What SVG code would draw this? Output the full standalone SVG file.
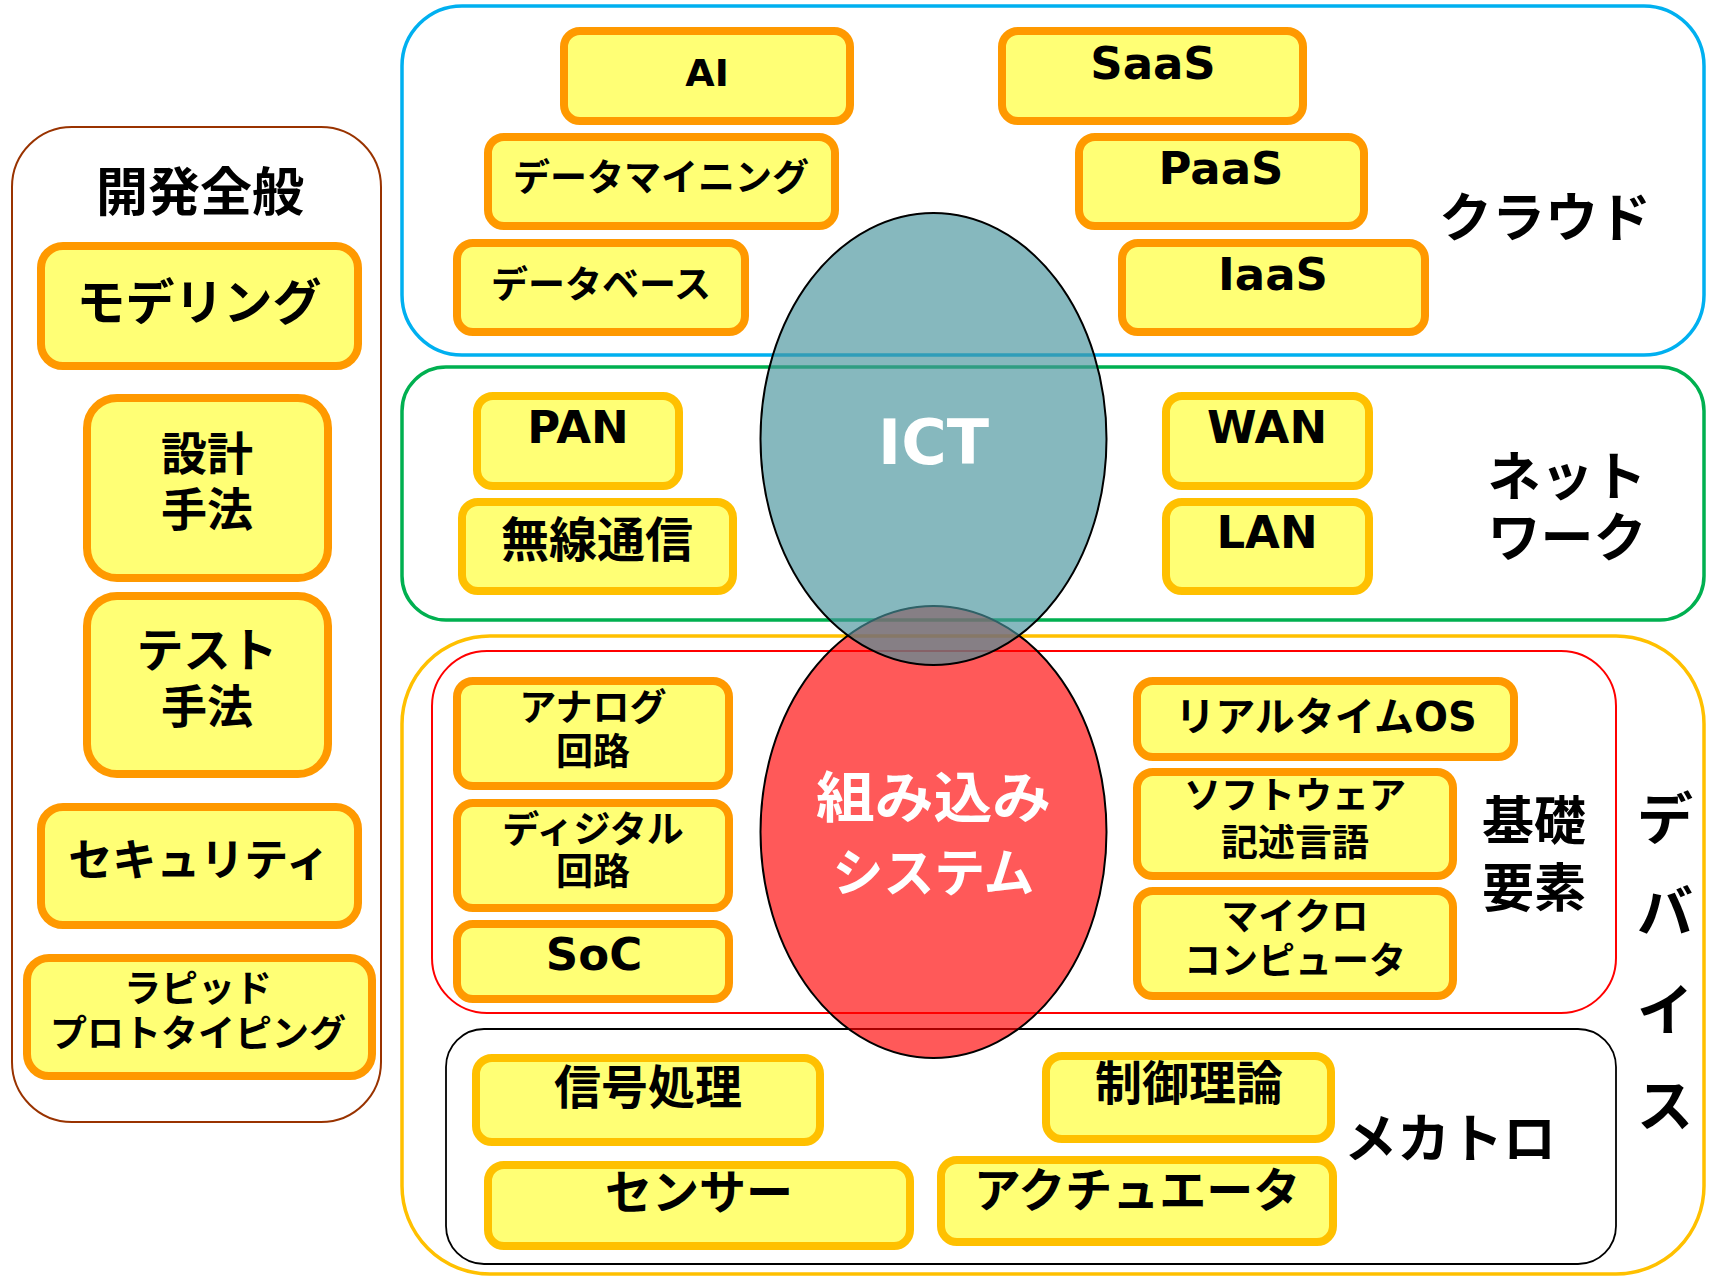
<svg xmlns="http://www.w3.org/2000/svg" width="1712" height="1279" viewBox="0 0 1712 1279">
<style>
text{font-family:"DejaVu Sans","Noto Sans CJK JP",sans-serif;font-weight:700;text-anchor:middle;fill:#000}
.box{fill:#FFFF75;stroke-width:8}
.o{stroke:#FF9900}
.g{stroke:#FFC000}
.grp{fill:none}
.ell{stroke:#000;stroke-width:2}
.w{fill:#fff}
</style>
<rect width="1712" height="1279" fill="#fff"/>
<g id="containers">
<g id="cloud-area"><rect class="grp" x="402" y="6" width="1302" height="349" rx="60" stroke="#00B0F0" stroke-width="3.5"/><text x="1545" y="237" font-size="53">クラウド</text></g>
<g id="network-area"><rect class="grp" x="402" y="367" width="1302" height="253" rx="44" stroke="#00B050" stroke-width="3.5"/><text x="1567" y="496" font-size="53">ネット</text><text x="1567" y="557" font-size="53">ワーク</text></g>
<g id="device-area"><rect class="grp" x="402" y="636" width="1302" height="638" rx="88" stroke="#FFC000" stroke-width="3.5"/><text x="1665" y="839" font-size="56">デ</text><text x="1665" y="932" font-size="56">バ</text><text x="1665" y="1030" font-size="56">イ</text><text x="1665" y="1126" font-size="56">ス</text></g>
<g id="basic-area"><rect class="grp" x="432" y="651" width="1184" height="362" rx="55" stroke="#FF0000" stroke-width="2"/><text x="1534" y="840" font-size="52">基礎</text><text x="1534" y="907" font-size="52">要素</text></g>
<g id="mecha-area"><rect class="grp" x="446" y="1029" width="1170" height="235" rx="38" stroke="#000" stroke-width="1.8"/><text x="1450" y="1158" font-size="53">メカトロ</text></g>
<g id="dev-area"><rect class="grp" x="12" y="127" width="369" height="995" rx="60" stroke="#993300" stroke-width="2"/><text x="200" y="211" font-size="52">開発全般</text></g>
</g>
<g id="n-ai"><rect class="box o" x="564" y="31" width="286" height="90" rx="16"/><text x="707" y="86" font-size="38">AI</text></g>
<g id="n-datamining"><rect class="box o" x="488" y="137" width="347" height="89" rx="16"/><text x="661" y="191" font-size="37">データマイニング</text></g>
<g id="n-database"><rect class="box o" x="457" y="243" width="288" height="89" rx="16"/><text x="601" y="298" font-size="37">データベース</text></g>
<g id="n-saas"><rect class="box o" x="1002" y="31" width="301" height="90" rx="16"/><text x="1153" y="79" font-size="45">SaaS</text></g>
<g id="n-paas"><rect class="box o" x="1079" y="137" width="285" height="89" rx="16"/><text x="1221" y="184" font-size="45">PaaS</text></g>
<g id="n-iaas"><rect class="box o" x="1122" y="243" width="303" height="89" rx="16"/><text x="1273" y="290" font-size="45">IaaS</text></g>
<g id="n-pan"><rect class="box g" x="477" y="396" width="202" height="90" rx="16"/><text x="578" y="443" font-size="45">PAN</text></g>
<g id="n-wireless"><rect class="box g" x="462" y="502" width="271" height="89" rx="16"/><text x="597" y="557" font-size="48">無線通信</text></g>
<g id="n-wan"><rect class="box g" x="1166" y="396" width="203" height="90" rx="16"/><text x="1267" y="443" font-size="45">WAN</text></g>
<g id="n-lan"><rect class="box g" x="1166" y="502" width="203" height="89" rx="16"/><text x="1267" y="548" font-size="45">LAN</text></g>
<g id="n-analog"><rect class="box o" x="457" y="681" width="272" height="105" rx="16"/><text x="593" y="721" font-size="37">アナログ</text><text x="593" y="765" font-size="37">回路</text></g>
<g id="n-digital"><rect class="box o" x="457" y="803" width="272" height="105" rx="16"/><text x="593" y="843" font-size="37">ディジタル</text><text x="593" y="885" font-size="37">回路</text></g>
<g id="n-soc"><rect class="box o" x="457" y="924" width="272" height="75" rx="16"/><text x="594" y="970" font-size="45">SoC</text></g>
<g id="n-rtos"><rect class="box o" x="1137" y="681" width="377" height="76" rx="16"/><text x="1326" y="731" font-size="40">リアルタイムOS</text></g>
<g id="n-swlang"><rect class="box o" x="1137" y="772" width="316" height="104" rx="16"/><text x="1295" y="809" font-size="37">ソフトウェア</text><text x="1295" y="856" font-size="37">記述言語</text></g>
<g id="n-micro"><rect class="box o" x="1137" y="891" width="316" height="105" rx="16"/><text x="1295" y="930" font-size="37">マイクロ</text><text x="1295" y="974" font-size="37">コンピュータ</text></g>
<g id="n-signal"><rect class="box g" x="476" y="1058" width="344" height="84" rx="16"/><text x="648" y="1104" font-size="47">信号処理</text></g>
<g id="n-sensor"><rect class="box g" x="488" y="1165" width="422" height="81" rx="16"/><text x="699" y="1209" font-size="47">センサー</text></g>
<g id="n-control"><rect class="box g" x="1046" y="1056" width="285" height="83" rx="16"/><text x="1189" y="1100" font-size="47">制御理論</text></g>
<g id="n-actuator"><rect class="box g" x="941" y="1160" width="392" height="82" rx="16"/><text x="1137" y="1207" font-size="47">アクチュエータ</text></g>
<g id="n-modeling"><rect class="box o" x="41" y="246" width="317" height="120" rx="22"/><text x="199" y="320" font-size="49">モデリング</text></g>
<g id="n-design"><rect class="box o" x="87" y="398" width="241" height="180" rx="30"/><text x="207" y="470" font-size="46">設計</text><text x="207" y="526" font-size="46">手法</text></g>
<g id="n-test"><rect class="box o" x="87" y="596" width="241" height="178" rx="30"/><text x="207" y="667" font-size="47">テスト</text><text x="207" y="723" font-size="46">手法</text></g>
<g id="n-security"><rect class="box o" x="41" y="807" width="317" height="118" rx="22"/><text x="199" y="876" font-size="44">セキュリティ</text></g>
<g id="n-rapid"><rect class="box o" x="27" y="958" width="345" height="118" rx="22"/><text x="198" y="1002" font-size="37">ラピッド</text><text x="198" y="1047" font-size="37">プロトタイピング</text></g>
<g id="n-embedded"><ellipse class="ell" cx="933.5" cy="832" rx="173" ry="226" fill="#FF0000" fill-opacity="0.65"/><text class="w" x="933.5" y="817" font-size="55" textLength="235" lengthAdjust="spacingAndGlyphs">組み込み</text><text class="w" x="933.5" y="892" font-size="52" textLength="202" lengthAdjust="spacingAndGlyphs">システム</text></g>
<g id="n-ict"><ellipse class="ell" cx="933.5" cy="439" rx="173" ry="226" fill="#48939C" fill-opacity="0.66"/><text class="w" x="933.5" y="464" font-size="62">ICT</text></g>
<g id="connectors"></g>
</svg>
